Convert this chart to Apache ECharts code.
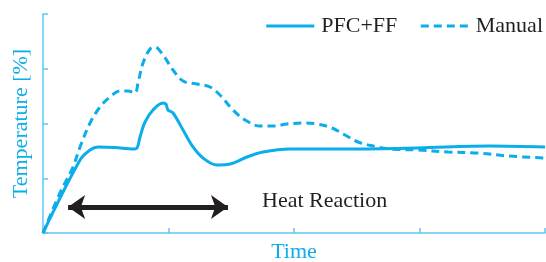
<!DOCTYPE html>
<html>
<head>
<meta charset="utf-8">
<script src="https://cdn.jsdelivr.net/npm/echarts@6/dist/echarts.min.js"></script>
<style>
html, body { margin: 0; padding: 0; background: #fff; }
#chart { width: 546px; height: 262px; }
</style>
</head>
<body>
<div id="chart"></div>
<script>
// curves (x = time, y = temperature, axis units 0..4)
var pfcTime = [0, 0.295, 0.375, 0.438, 0.574, 0.717, 0.749, 0.773, 0.813, 0.876, 0.956, 0.980, 0.996, 1.036, 1.116, 1.195, 1.275, 1.386, 1.490, 1.625, 1.753, 1.968, 2.446, 2.980, 3.562, 4.0];
var pfcTemp = [0, 1.333, 1.516, 1.571, 1.562, 1.534, 1.553, 1.753, 2.027, 2.247, 2.374, 2.356, 2.247, 2.192, 1.881, 1.571, 1.370, 1.242, 1.260, 1.388, 1.479, 1.534, 1.534, 1.553, 1.589, 1.571];
var manualTime = [0, 0.135, 0.239, 0.295, 0.375, 0.454, 0.534, 0.614, 0.677, 0.733, 0.757, 0.797, 0.853, 0.892, 0.956, 1.036, 1.116, 1.227, 1.331, 1.410, 1.514, 1.610, 1.729, 1.833, 1.944, 2.064, 2.183, 2.303, 2.406, 2.510, 2.629, 2.765, 2.980, 3.227, 3.466, 3.705, 4.0];
var manualTemp = [0, 0.731, 1.205, 1.571, 2.009, 2.301, 2.484, 2.594, 2.594, 2.557, 2.740, 3.105, 3.361, 3.397, 3.251, 2.977, 2.776, 2.721, 2.667, 2.521, 2.247, 2.064, 1.954, 1.954, 1.991, 2.009, 1.991, 1.918, 1.790, 1.662, 1.589, 1.534, 1.516, 1.479, 1.461, 1.406, 1.370];
var seriesNames = ['PFC+FF', 'Manual'];
// heat reaction arrow (time span, level)
var arrowSpan = [0.2, 1.474];
var arrowLevel = 0.475;

function pairs(xs, ys) {
	var out = [];
	for (var i = 0; i < xs.length; i++) {
		out.push([xs[i], ys[i]]);
	}
	return out;
}

var blue = '#0badea';
var axisBlue = '#62c6ef';
var serif = '"Liberation Serif", "DejaVu Serif", serif';

var chart = echarts.init(document.getElementById('chart'));
var option = {
	animation: false,
	grid: { left: 43, right: 1, top: 14, bottom: 29, outerBoundsMode: 'none' },
	legend: {
		right: -2,
		top: 10,
		itemWidth: 48,
		itemHeight: 14,
		itemGap: 22,
		itemStyle: { opacity: 0 },
		lineStyle: { width: 3 },
		textStyle: { fontFamily: serif, fontSize: 22, color: '#231f20', padding: [0, 0, 0, 2] },
		data: seriesNames
	},
	xAxis: {
		type: 'value',
		min: 0, max: 4, interval: 1,
		name: 'Time',
		nameLocation: 'middle',
		nameGap: 8,
		nameTextStyle: { fontFamily: serif, fontSize: 22, color: blue },
		axisLine: { lineStyle: { color: axisBlue, width: 1.5 } },
		axisTick: { inside: true, length: 5, lineStyle: { color: axisBlue, width: 1.5 } },
		axisLabel: { show: false },
		splitLine: { show: false }
	},
	yAxis: {
		type: 'value',
		min: 0, max: 4, interval: 1,
		name: 'Temperature [%]',
		nameLocation: 'middle',
		nameGap: 11,
		nameTextStyle: { fontFamily: serif, fontSize: 22, color: blue },
		axisLine: { show: true, lineStyle: { color: axisBlue, width: 1.5 } },
		axisTick: { show: true, inside: true, length: 5, lineStyle: { color: axisBlue, width: 1.5 } },
		axisLabel: { show: false },
		splitLine: { show: false }
	},
	series: [
		{
			name: seriesNames[0],
			type: 'line',
			smooth: 0.35,
			symbol: 'none',
			data: pairs(pfcTime, pfcTemp),
			lineStyle: { color: blue, width: 3 },
			itemStyle: { color: blue },
			markLine: {
				silent: true,
				symbol: ['arrow', 'arrow'],
				symbolSize: [18, 17],
				label: { show: false },
				lineStyle: { color: '#231f20', width: 5, type: 'solid' },
				data: [[
					{ coord: [arrowSpan[0], arrowLevel] },
					{ coord: [arrowSpan[1], arrowLevel] }
				]]
			}
		},
		{
			name: seriesNames[1],
			type: 'line',
			smooth: 0.35,
			symbol: 'none',
			data: pairs(manualTime, manualTemp),
			lineStyle: { color: blue, width: 3, type: [8, 5] },
			itemStyle: { color: blue }
		}
	],
	graphic: [{
		type: 'text',
		left: 262,
		top: 190,
		style: { text: 'Heat Reaction', fontFamily: serif, fontSize: 22, fill: '#231f20' }
	}]
};
chart.setOption(option);
</script>
</body>
</html>
